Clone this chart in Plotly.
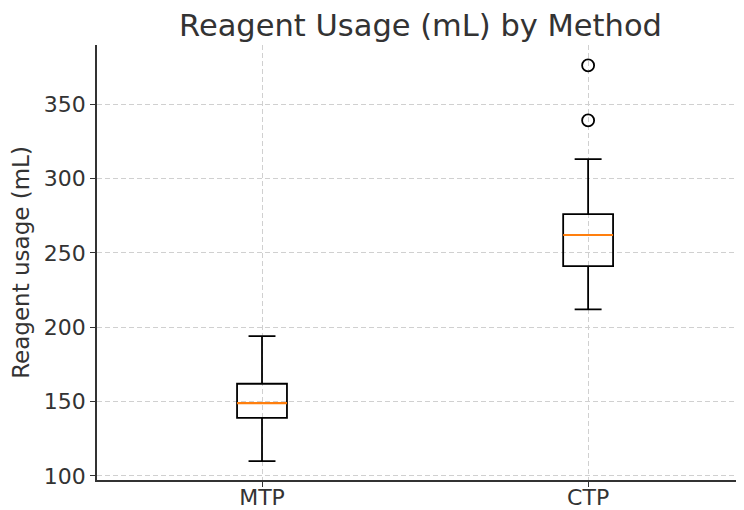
import plotly.graph_objects as go

methods = ["MTP", "CTP"]
positions = [0, 1]
q1 = [139, 241]
median = [149, 262]
q3 = [162, 276]
lower_whisker = [110, 212]
upper_whisker = [194, 313]
outlier_x = [1, 1]
outlier_y = [339, 376]
y_ticks = [100, 150, 200, 250, 300, 350]

box_w = 0.153

fig = go.Figure()
fig.add_trace(go.Box(
    x=positions, q1=q1, median=median, q3=q3,
    lowerfence=lower_whisker, upperfence=upper_whisker,
    width=box_w, whiskerwidth=0.54,
    fillcolor="rgba(255,255,255,0)",
    line=dict(color="black", width=1.8),
    boxpoints=False, showlegend=False, hoverinfo="skip",
))
for p, m in zip(positions, median):
    fig.add_trace(go.Scatter(
        x=[p - box_w / 2, p + box_w / 2], y=[m, m], mode="lines",
        line=dict(color="#ff7f0e", width=2.2), showlegend=False, hoverinfo="skip",
    ))
fig.add_trace(go.Scatter(
    x=outlier_x, y=outlier_y, mode="markers",
    marker=dict(symbol="circle-open", size=12, color="black", line=dict(width=1.8)),
    showlegend=False, hoverinfo="skip",
))

# page body has an 8px margin, so the figure is sized/offset to compensate
fig.update_layout(
    width=736, height=502,
    margin=dict(l=89, r=0, t=37, b=30),
    plot_bgcolor="white", paper_bgcolor="white",
    font=dict(family="DejaVu Sans", color="#333333", size=22),
    title=dict(text="Reagent Usage (mL) by Method", xref="paper", x=0.5, xanchor="center",
               yref="container", y=0.966, yanchor="middle",
               font=dict(size=30.5, color="#333333")),
)
fig.update_xaxes(
    range=[-0.506, 1.478], tickvals=positions, ticktext=methods,
    showgrid=True, gridcolor="#d0d0d0", griddash="5px,3px", gridwidth=1,
    showline=True, linecolor="#333333", linewidth=1.6,
    ticks="outside", ticklen=5, tickcolor="#333333", zeroline=False,
    ticklabelstandoff=-8,
    automargin=False,
)
fig.update_yaxes(
    range=[97.3, 389.7], tickvals=y_ticks,
    title=dict(text="Reagent usage (mL)", standoff=8, font=dict(size=23)),
    showgrid=True, gridcolor="#d0d0d0", griddash="5px,3px", gridwidth=1,
    showline=True, linecolor="#333333", linewidth=1.6,
    ticks="outside", ticklen=5, tickcolor="#333333", zeroline=False,
    automargin=False,
)
fig.write_html("out.html")
